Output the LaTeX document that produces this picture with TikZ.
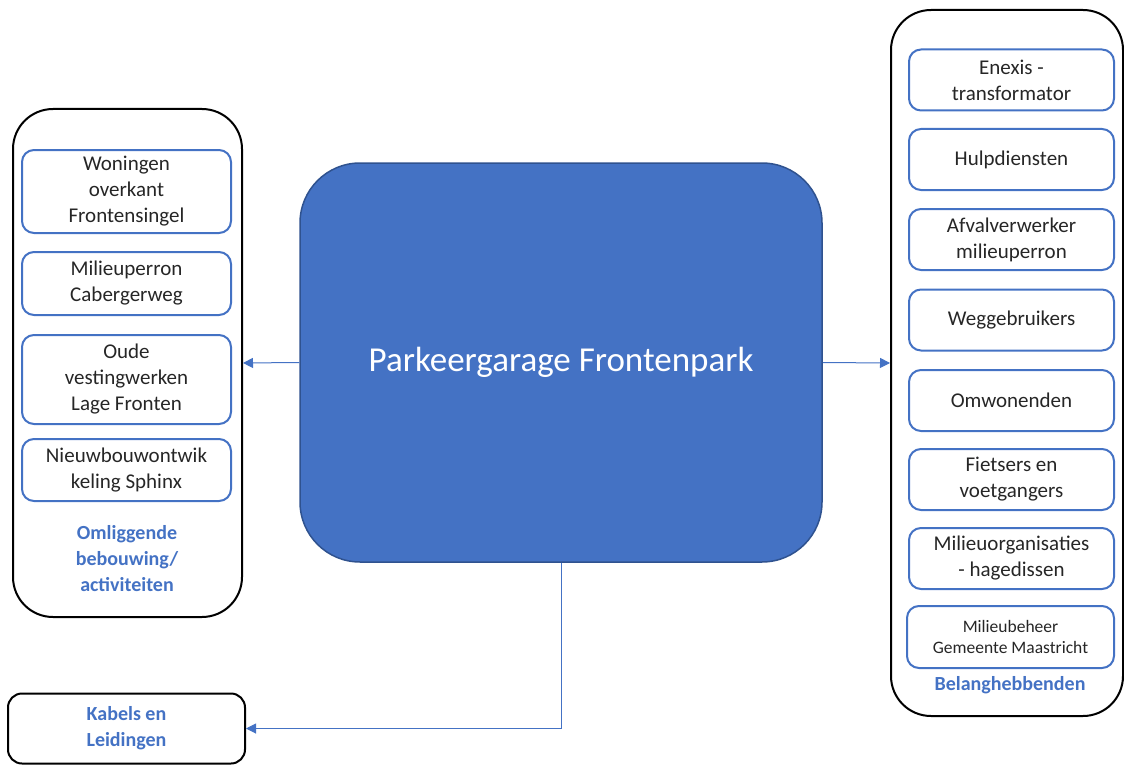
\documentclass[tikz,border=0pt]{standalone}
\usepackage{fontspec}
\setmainfont{Carlito}
\usetikzlibrary{arrows.meta}
\definecolor{accent}{HTML}{4472C4}
\definecolor{accentdark}{HTML}{2F528F}
\definecolor{tekst}{HTML}{262626}
\begin{document}
\begin{tikzpicture}[x=1pt, y=-1pt,
    item/.style={draw=accent, line width=2pt, rounded corners=12pt, align=center,
        text=tekst, inner sep=0pt, font=\fontsize{21}{26}\selectfont},
    group/.style={draw=black, line width=2pt, rounded corners=40pt, inner sep=0pt},
    grouptitle/.style={align=center, text=accent, font=\fontsize{20}{26}\selectfont\bfseries},
    conn/.style={draw=accent, line width=1pt, -{Triangle[length=10pt, width=10pt]}}]
            \useasboundingbox (0, 0) rectangle (1124, 765);

            % centre
            \node[draw=accentdark, line width=1.5pt, fill=accent, rounded corners=60pt,
                minimum width=522pt, minimum height=399pt, text=white,
                font=\fontsize{35}{40}\selectfont] (garage) at (561, 362.5) {Parkeergarage Frontenpark};

            % left group
            \node[group, minimum width=229pt, minimum height=508pt] (omgeving) at (127.5, 363) {};
            \node[item, minimum width=209pt, minimum height=83pt] (woningen) at (126.5, 191.5) {Woningen\\overkant\\Frontensingel};
            \node[item, minimum width=209pt, minimum height=63pt] (perron) at (126.5, 283.5) {Milieuperron\\Cabergerweg};
            \node[item, minimum width=209pt, minimum height=89pt] (vesting) at (126.5, 379.5) {Oude\\vestingwerken\\Lage Fronten};
            \node[item, minimum width=209pt, minimum height=62pt] (sphinx) at (126.5, 470) {Nieuwbouwontwik\\keling Sphinx};
            \node[grouptitle] (omgevingtitel) at (127, 559) {Omliggende\\bebouwing/\\activiteiten};

            % right group
            \node[group, minimum width=232pt, minimum height=706pt] (belang) at (1007, 363) {};
            \node[item, minimum width=205pt, minimum height=61pt] (enexis) at (1011.5, 80) {Enexis -\\transformator};
            \node[item, minimum width=205pt, minimum height=61pt] (hulp) at (1011.5, 159.5) {Hulpdiensten};
            \node[item, minimum width=205pt, minimum height=61pt] (afval) at (1011.5, 239.5) {Afvalverwerker\\milieuperron};
            \node[item, minimum width=205pt, minimum height=61pt] (weg) at (1011.5, 320) {Weggebruikers};
            \node[item, minimum width=205pt, minimum height=61pt] (omwonend) at (1011.5, 400.5) {Omwonenden};
            \node[item, minimum width=205pt, minimum height=61pt] (fiets) at (1011.5, 479.5) {Fietsers en\\voetgangers};
            \node[item, minimum width=205pt, minimum height=61pt] (hagedis) at (1011.5, 558.5) {Milieuorganisaties\\- hagedissen};
            \node[item, minimum width=207pt, minimum height=62pt,
                font=\fontsize{17.5}{21}\selectfont] (beheer) at (1010.5, 637) {Milieubeheer\\Gemeente Maastricht};
            \node[grouptitle] (belangtitel) at (1010, 685) {Belanghebbenden};

            % cables
            \node[group, rounded corners=14pt, minimum width=237pt, minimum height=70pt] (kabels) at (126.5, 728.5) {};
            \node[grouptitle] (kabelstitel) at (kabels) {Kabels en\\Leidingen};

            \draw[conn] (garage.west) -- (omgeving.east);
            \draw[conn] (garage.east) -- (belang.west);
            \draw[conn] (garage.south) |- (kabels.east);
        \end{tikzpicture}
\end{document}
